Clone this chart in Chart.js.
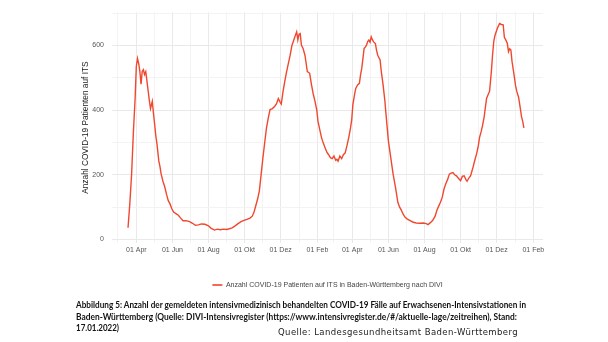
<!DOCTYPE html>
<html><head><meta charset="utf-8">
<script src="https://cdn.jsdelivr.net/npm/chart.js@4.4.1/dist/chart.umd.min.js"></script>
<style>
html,body{margin:0;padding:0;background:#fff;width:608px;height:342px;overflow:hidden;}
#wrap{position:relative;width:608px;height:342px;}
canvas{position:absolute;left:0;top:0;}
.cap{position:absolute;left:76px;white-space:nowrap;font-family:Lato,'Open Sans',sans-serif;font-weight:700;font-size:9px;line-height:12px;color:#111;transform-origin:0 50%;}
#src{position:absolute;left:278px;top:326px;white-space:nowrap;font-family:'DejaVu Sans',sans-serif;font-size:8.5px;line-height:12px;color:#222;}
</style></head><body>
<div id="wrap">
<canvas id="c" width="608" height="342"></canvas>
<div class="cap" data-w="450" style="top:299px">Abbildung 5: Anzahl der gemeldeten intensivmedizinisch behandelten COVID-19 Fälle auf Erwachsenen-Intensivstationen in</div>
<div class="cap" data-w="441" style="top:311px">Baden-Württemberg (Quelle: DIVI-Intensivregister (https://www.intensivregister.de/#/aktuelle-lage/zeitreihen), Stand:</div>
<div class="cap" data-w="43" style="top:322px">17.01.2022)</div>
<div id="src" data-w="240">Quelle: Landesgesundheitsamt Baden-Württemberg</div>
</div>
<script>
// ---- data ----
const seriesLabel = 'Anzahl COVID-19 Patienten auf ITS in Baden-Württemberg nach DIVI';
const yTitle = 'Anzahl COVID-19 Patienten auf ITS';

const dates = [
'2020-03-18','2020-03-21','2020-03-24','2020-03-27','2020-03-30','2020-04-01','2020-04-03','2020-04-05','2020-04-07','2020-04-09',
'2020-04-11','2020-04-13','2020-04-15','2020-04-17','2020-04-19','2020-04-21','2020-04-23','2020-04-25','2020-04-28','2020-04-30',
'2020-05-02','2020-05-04','2020-05-06','2020-05-09','2020-05-11','2020-05-13','2020-05-16','2020-05-19','2020-05-22','2020-05-25',
'2020-05-28','2020-05-31','2020-06-03','2020-06-07','2020-06-11','2020-06-15','2020-06-19','2020-06-24','2020-06-30','2020-07-05',
'2020-07-10','2020-07-15','2020-07-20','2020-07-26','2020-08-01','2020-08-05','2020-08-11','2020-08-16','2020-08-21','2020-08-26',
'2020-09-01','2020-09-05','2020-09-10','2020-09-15','2020-09-20','2020-09-25','2020-09-30','2020-10-05','2020-10-10','2020-10-14',
'2020-10-17','2020-10-20','2020-10-23','2020-10-26','2020-10-29','2020-11-01','2020-11-04','2020-11-07','2020-11-10','2020-11-13',
'2020-11-17','2020-11-21','2020-11-24','2020-11-27','2020-11-30','2020-12-02','2020-12-05','2020-12-08','2020-12-11','2020-12-14',
'2020-12-17','2020-12-20','2020-12-22','2020-12-25','2020-12-28','2020-12-30','2021-01-01','2021-01-03','2021-01-05','2021-01-08',
'2021-01-11','2021-01-13','2021-01-15','2021-01-19','2021-01-22','2021-01-25','2021-01-28','2021-01-31','2021-02-02','2021-02-05',
'2021-02-08','2021-02-11','2021-02-14','2021-02-17','2021-02-20','2021-02-23','2021-02-26','2021-03-01','2021-03-04','2021-03-06',
'2021-03-08','2021-03-11','2021-03-14','2021-03-17','2021-03-20','2021-03-23','2021-03-26','2021-03-29','2021-03-31','2021-04-02',
'2021-04-05','2021-04-07','2021-04-10','2021-04-13','2021-04-15','2021-04-17','2021-04-19','2021-04-21','2021-04-23','2021-04-25',
'2021-04-27','2021-04-29','2021-05-01','2021-05-03','2021-05-05','2021-05-07','2021-05-10','2021-05-12','2021-05-14','2021-05-18',
'2021-05-20','2021-05-23','2021-05-26','2021-05-28','2021-06-01','2021-06-05','2021-06-09','2021-06-13','2021-06-17','2021-06-20',
'2021-06-23','2021-06-26','2021-06-29','2021-07-03','2021-07-07','2021-07-12','2021-07-18','2021-07-24','2021-07-30','2021-08-04',
'2021-08-07','2021-08-11','2021-08-15','2021-08-19','2021-08-22','2021-08-25','2021-08-28','2021-08-31','2021-09-03','2021-09-06',
'2021-09-09','2021-09-12','2021-09-15','2021-09-18','2021-09-21','2021-09-24','2021-09-27','2021-10-01','2021-10-04','2021-10-07',
'2021-10-10','2021-10-12','2021-10-15','2021-10-18','2021-10-20','2021-10-22','2021-10-25','2021-10-28','2021-10-31','2021-11-02',
'2021-11-05','2021-11-07','2021-11-10','2021-11-12','2021-11-14','2021-11-17','2021-11-19','2021-11-22','2021-11-24','2021-11-26',
'2021-11-28','2021-12-01','2021-12-03','2021-12-06','2021-12-09','2021-12-12','2021-12-14','2021-12-17','2021-12-19','2021-12-21',
'2021-12-23','2021-12-25','2021-12-27','2021-12-30','2022-01-02','2022-01-04','2022-01-07','2022-01-09','2022-01-12','2022-01-14',
'2022-01-16'
];
const patients = [
36,110,200,330,437,535,560,545,520,480,
520,525,510,519,490,460,430,405,427,390,
356,320,294,243,225,202,180,163,140,120,
110,95,85,80,75,66,58,58,55,50,
44,45,48,47,42,35,29,32,30,32,
31,33,36,42,49,55,59,62,66,72,
85,105,125,151,202,253,300,345,375,402,
405,412,420,436,425,419,458,490,519,545,
570,600,611,627,642,617,635,637,601,590,
570,545,519,514,479,450,427,400,366,340,
315,298,284,270,262,253,250,258,245,248,
242,258,250,262,268,290,315,345,370,417,
450,468,478,483,510,529,560,591,595,601,
612,617,610,627,618,611,606,585,570,555,
520,479,430,387,305,253,202,161,115,100,
90,78,69,63,59,54,51,50,51,49,
46,52,59,72,90,103,115,130,156,172,
185,202,205,207,200,197,190,182,195,197,
185,180,190,197,210,223,245,264,290,315,
335,351,381,410,437,450,458,519,570,611,
630,647,657,668,665,664,625,615,606,581,
590,586,550,514,475,458,440,417,380,365,
345
];

const xTickDates = ['2020-03-01','2020-04-01','2020-05-01','2020-06-01','2020-07-01','2020-08-01','2020-09-01','2020-10-01','2020-11-01','2020-12-01',
'2021-01-01','2021-02-01','2021-03-01','2021-04-01','2021-05-01','2021-06-01','2021-07-01','2021-08-01','2021-09-01','2021-10-01','2021-11-01','2021-12-01',
'2022-01-01','2022-02-01'];
const xTickLabels = ['','01 Apr','','01 Jun','','01 Aug','','01 Okt','','01 Dez',
'','01 Feb','','01 Apr','','01 Jun','','01 Aug','','01 Okt','','01 Dez',
'','01 Feb'];
const yTicks = [0,100,200,300,400,500,600,700];
const yTickLabels = ['0','','200','','400','','600',''];
const xRange = ['2020-02-19T22:00:00Z','2022-02-17T07:00:00Z'];
const yRange = [-11, 703];

// ---- build ----
const toMs = s => s.length === 10 ? Date.parse(s + 'T00:00:00Z') : Date.parse(s);
const points = dates.map((d, i) => ({x: toMs(d), y: patients[i]}));
const xTickVals = xTickDates.map(toMs);
const xLabelMap = new Map(xTickVals.map((v, i) => [v, xTickLabels[i]]));
const yLabelMap = new Map(yTicks.map((v, i) => [v, yTickLabels[i]]));

const lineColor = '#f0482f';
const gridMajor = '#e9e9e9';
const gridMinor = '#f3f3f3';

new Chart(document.getElementById('c'), {
  type: 'line',
  data: { datasets: [{
    label: seriesLabel, data: points, borderColor: lineColor, backgroundColor: lineColor,
    borderWidth: 1.4, pointRadius: 0, tension: 0, fill: false
  }]},
  options: {
    responsive: false, animation: false, parsing: false,
    layout: { padding: { left: 81, right: 65, top: 10, bottom: 43.5 } },
    plugins: {
      tooltip: { enabled: false },
      legend: {
        position: 'bottom', fullSize: false,
        labels: {
          usePointStyle: true, pointStyle: 'line', pointStyleWidth: 10, boxHeight: 7, padding: 4,
          color: '#444', font: { family: "'Liberation Sans', Arial, sans-serif", size: 7 },
          generateLabels: (chart) => Chart.defaults.plugins.legend.labels.generateLabels(chart).map(l => Object.assign(l, {lineWidth: 2, strokeStyle: '#f26a55'}))
        }
      }
    },
    scales: {
      x: {
        type: 'linear', min: toMs(xRange[0]), max: toMs(xRange[1]),
        afterBuildTicks: s => { s.ticks = xTickVals.map(v => ({value: v})); },
        afterFit: s => { s.height = 34.5; },
        border: { display: false },
        grid: { drawTicks: false, lineWidth: 1,
          color: c => (c.tick && xLabelMap.get(c.tick.value)) ? gridMajor : gridMinor },
        ticks: { autoSkip: false, maxRotation: 0, padding: 3, color: '#555',
          font: { family: "'Liberation Sans', Arial, sans-serif", size: 7 },
          callback: v => xLabelMap.get(v) || '' }
      },
      y: {
        type: 'linear', min: yRange[0], max: yRange[1],
        afterBuildTicks: s => { s.ticks = yTicks.map(v => ({value: v})); },
        afterFit: s => { s.width = 31; },
        border: { display: false },
        grid: { drawTicks: false, lineWidth: 1,
          color: c => (c.tick && yLabelMap.get(c.tick.value)) ? gridMajor : gridMinor },
        ticks: { padding: 8, color: '#555',
          font: { family: "'Liberation Sans', Arial, sans-serif", size: 7 },
          callback: v => yLabelMap.has(v) ? yLabelMap.get(v) : '' },
        title: { display: true, text: yTitle, color: '#222', padding: 0,
          font: { family: "'Liberation Sans', Arial, sans-serif", size: 8.3 } }
      }
    }
  }
});

// fit caption text widths to the reference
function fitTexts() {
  document.querySelectorAll('.cap').forEach(el => {
    const w = el.getBoundingClientRect().width;
    el.style.transform = 'scaleX(' + (+el.dataset.w / w) + ')';
  });
  const src = document.getElementById('src');
  const n = src.textContent.length;
  const w = src.getBoundingClientRect().width;
  src.style.letterSpacing = ((+src.dataset.w - w) / n) + 'px';
}
if (document.fonts && document.fonts.ready) document.fonts.ready.then(fitTexts); else fitTexts();
</script>
</body></html>
